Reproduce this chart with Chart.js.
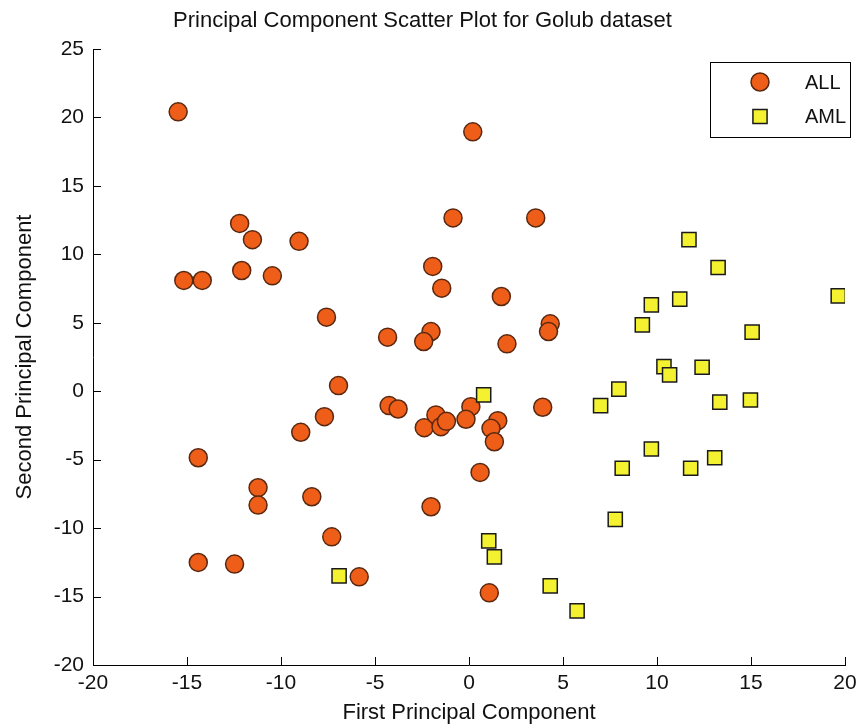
<!DOCTYPE html>
<html>
<head>
<meta charset="utf-8">
<script src="https://cdn.jsdelivr.net/npm/chart.js@4.4.1/dist/chart.umd.min.js"></script>
<style>
  html, body { margin: 0; padding: 0; background: #fff; }
  #wrap { width: 865px; height: 727px; }
</style>
</head>
<body>
<div id="wrap"><canvas id="chart" width="865" height="727"></canvas></div>
<script>
// ALL samples (orange circles)
const allX = [-15.47, 0.2, -12.2, -11.52, -9.04, -15.17, -14.19, -12.09, -10.46, -0.85,
  -1.93, -1.45, -7.58, -4.33, -2.02, -2.41, 3.55, 1.72, 4.32, 4.23,
  2.02, -6.94, -4.25, -3.77, -7.69, -8.95, -2.38, -1.76, -1.49, -1.2,
  0.1, -0.16, 1.53, 1.17, 1.35, 3.92, 0.59, 1.08, -14.4, -11.22,
  -11.22, -8.36, -2.02, -7.3, -14.4, -12.47, -5.84];
const allY = [20.41, 18.95, 12.26, 11.07, 10.95, 8.09, 8.09, 8.82, 8.43, 12.66,
  9.12, 7.53, 5.41, 3.95, 4.36, 3.63, 12.66, 6.92, 4.92, 4.36,
  3.46, 0.41, -1.05, -1.3, -1.86, -3.0, -2.66, -1.73, -2.59, -2.2,
  -1.13, -2.05, -2.15, -2.71, -3.69, -1.17, -5.93, -14.73, -4.86, -7.05,
  -8.32, -7.71, -8.44, -10.64, -12.51, -12.63, -13.56];

// AML samples (yellow squares)
const amlX = [11.7, 13.25, 19.64, 11.21, 9.7, 9.22, 15.06, 10.37, 12.4, 10.67,
  7.97, 7.0, 13.34, 14.97, 0.78, 9.7, 8.15, 11.79, 13.07, 7.78,
  1.05, 1.35, 4.32, 5.75, -6.91];
const amlY = [11.07, 9.04, 6.97, 6.73, 6.31, 4.85, 4.32, 1.8, 1.75, 1.19,
  0.15, -1.05, -0.8, -0.64, -0.27, -4.22, -5.63, -5.63, -4.86, -9.36,
  -10.93, -12.1, -14.22, -16.05, -13.49];

const xRange = [-20, 20];
const yRange = [-20, 25];
const tickStep = 5;

const FONT = '"Liberation Sans", Arial, Helvetica, sans-serif';

function toPoints(xs, ys) {
  return xs.map((x, i) => ({ x: x, y: ys[i] }));
}

// MATLAB style ticks pointing into the plot
const inwardTicks = {
  id: 'inwardTicks',
  beforeDatasetsDraw(chart) {
    const ctx = chart.ctx;
    const xs = chart.scales.x, ys = chart.scales.y;
    const area = chart.chartArea;
    const len = 8;
    ctx.save();
    ctx.strokeStyle = '#000';
    ctx.lineWidth = 1;
    ctx.beginPath();
    xs.ticks.forEach(t => {
      const px = Math.round(xs.getPixelForValue(t.value)) + 0.5;
      ctx.moveTo(px, area.bottom);
      ctx.lineTo(px, area.bottom - len);
    });
    ys.ticks.forEach(t => {
      const py = Math.round(ys.getPixelForValue(t.value)) + 0.5;
      ctx.moveTo(area.left, py);
      ctx.lineTo(area.left + len, py);
    });
    ctx.stroke();
    ctx.restore();
  }
};

// boxed legend in the top right corner
const boxLegend = {
  id: 'boxLegend',
  afterDatasetsDraw(chart) {
    const ctx = chart.ctx;
    const area = chart.chartArea;
    const w = 140, h = 75;
    const left = area.right + 5 - w;
    const top = area.top + 13;
    ctx.save();
    ctx.fillStyle = '#fff';
    ctx.fillRect(left, top, w, h);
    ctx.strokeStyle = '#000';
    ctx.lineWidth = 1;
    ctx.strokeRect(Math.round(left) + 0.5, Math.round(top) + 0.5, w, h);
    chart.data.datasets.forEach((ds, i) => {
      const cy = top + 20 + i * 34.5;
      const cx = left + 50;
      ctx.fillStyle = ds.backgroundColor;
      ctx.strokeStyle = ds.borderColor;
      ctx.lineWidth = ds.borderWidth;
      Chart.helpers.drawPoint(ctx, {
        pointStyle: ds.pointStyle,
        radius: ds.pointRadius,
        rotation: 0,
        borderWidth: ds.borderWidth
      }, cx, cy);
      ctx.fillStyle = '#111';
      ctx.font = '20px ' + FONT;
      ctx.textAlign = 'left';
      ctx.textBaseline = 'middle';
      ctx.fillText(ds.label, left + 95, cy + 1);
    });
    ctx.restore();
  }
};

new Chart(document.getElementById('chart'), {
  type: 'scatter',
  data: {
    datasets: [
      {
        label: 'ALL',
        data: toPoints(allX, allY),
        pointStyle: 'circle',
        pointRadius: 9,
        pointHoverRadius: 9,
        backgroundColor: '#ee5e18',
        borderColor: '#5a2810',
        borderWidth: 1.5,
        order: 1
      },
      {
        label: 'AML',
        data: toPoints(amlX, amlY),
        pointStyle: 'rect',
        pointRadius: 10,
        pointHoverRadius: 10,
        backgroundColor: '#f4f230',
        borderColor: '#1a1a1a',
        borderWidth: 1.5,
        order: 0
      }
    ]
  },
  options: {
    responsive: false,
    animation: false,
    events: [],
    layout: { padding: { left: 0, right: 20, top: 0, bottom: 0 } },
    plugins: {
      legend: { display: false },
      tooltip: { enabled: false },
      title: {
        display: true,
        text: 'Principal Component Scatter Plot for Golub dataset',
        color: '#111',
        font: { family: FONT, size: 22, weight: 'normal' },
        padding: { top: 8, bottom: 14.6 }
      }
    },
    scales: {
      x: {
        type: 'linear',
        min: xRange[0],
        max: xRange[1],
        grid: { display: true, drawOnChartArea: false, drawTicks: false },
        border: { display: true, color: '#000', width: 1 },
        ticks: {
          stepSize: tickStep,
          color: '#111',
          padding: 6,
          font: { family: FONT, size: 21 }
        },
        title: {
          display: true,
          text: 'First Principal Component',
          color: '#111',
          font: { family: FONT, size: 22 },
          padding: { top: 0, bottom: 1 }
        },
        afterFit(scale) { scale.height = 62; }
      },
      y: {
        type: 'linear',
        min: yRange[0],
        max: yRange[1],
        grid: { display: true, drawOnChartArea: false, drawTicks: false },
        border: { display: true, color: '#000', width: 1 },
        ticks: {
          stepSize: tickStep,
          color: '#111',
          padding: 9,
          font: { family: FONT, size: 21 }
        },
        title: {
          display: true,
          text: 'Second Principal Component',
          color: '#111',
          font: { family: FONT, size: 22 },
          padding: { top: 12, bottom: 0 }
        },
        afterFit(scale) { scale.width = 93; }
      }
    }
  },
  plugins: [inwardTicks, boxLegend]
});
</script>
</body>
</html>
